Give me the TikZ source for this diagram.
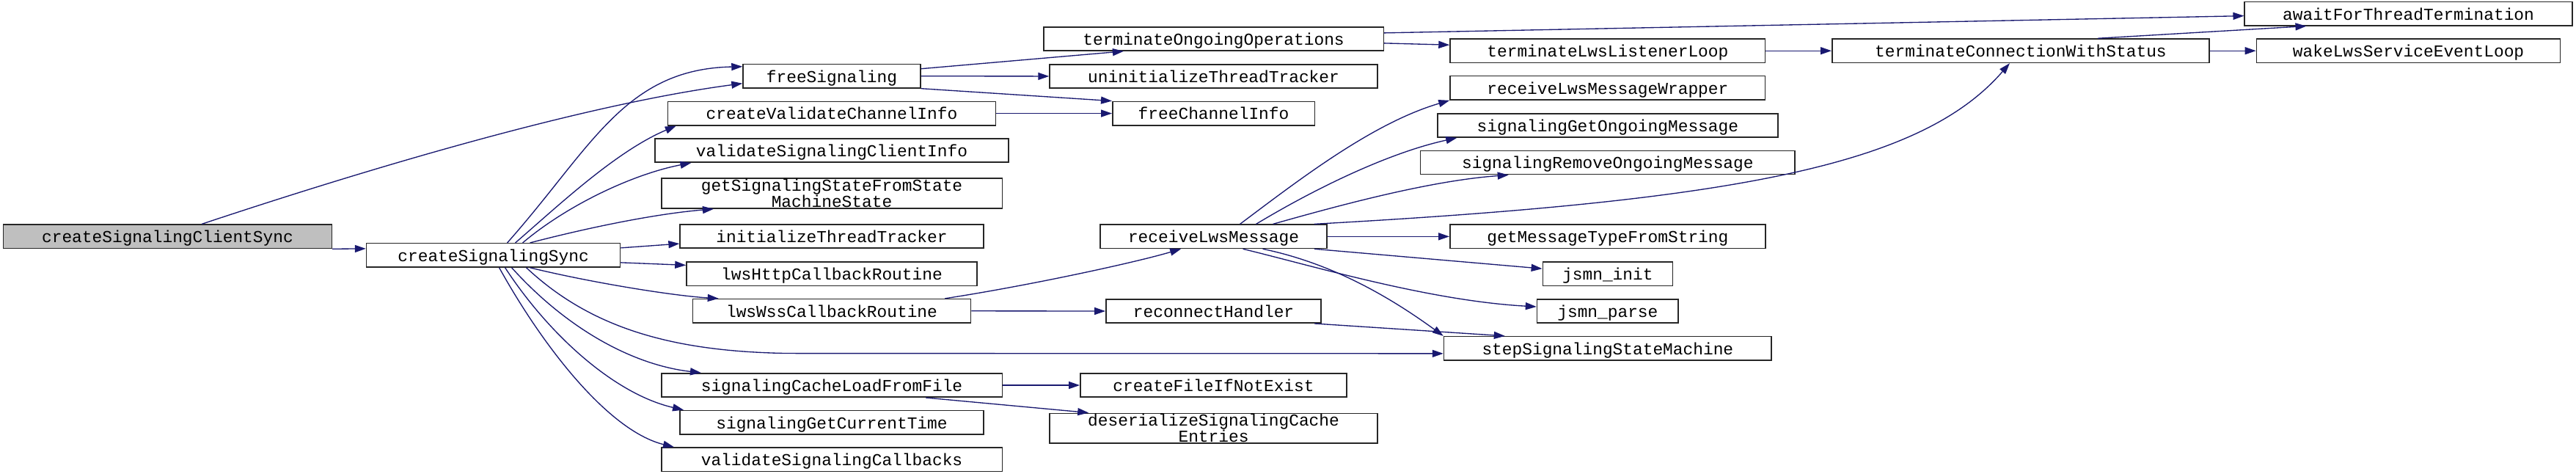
\documentclass[tikz,border=0pt]{standalone}
\usepackage{fontspec}
\setmonofont{Liberation Mono}
\usepackage{tikz}
\usetikzlibrary{arrows.meta}
\definecolor{edgeblue}{RGB}{25, 25, 112}
\definecolor{rootgray}{RGB}{191, 191, 191}

\begin{document}
\begin{tikzpicture}[x=0.0224cm, y=-0.0224cm, >={Triangle[length=0.15cm, width=0.1cm]},
    font=\fontsize{6.5}{6.3}\selectfont\ttfamily,
    box/.style={draw=black!85, line width=0.45pt, fill=white, inner sep=0pt,
      minimum width=#1*0.0224cm, minimum height=0.258cm},
    fn/.style={box=#1, text height=0.7em, text depth=0.22em},
    fn2/.style={box=#1, align=center, minimum height=0.408cm},
    call/.style={->, draw=edgeblue, line width=0.38pt}]

  \useasboundingbox (0,0) rectangle (1568,288);

  % Caller and createSignalingSync
  \node[fn=200, fill=rootgray] (root) at (102,143.9) {createSignalingClientSync};
  \node[fn=154.5] (sync) at (300.3,155.3) {createSignalingSync};

  % Column 2
  \foreach \n/\y/\w/\lbl in {fs/46.3/108/freeSignaling,
      cvci/69/199.5/createValidateChannelInfo,
      vsci/91.5/215/validateSignalingClientInfo,
      itt/143.8/184.7/initializeThreadTracker,
      lh/166.7/176.8/lwsHttpCallbackRoutine,
      lw/189.2/169.2/lwsWssCallbackRoutine,
      scl/234.4/207.4/signalingCacheLoadFromFile,
      sgct/257/185/signalingGetCurrentTime,
      vsc/279.6/207.4/validateSignalingCallbacks}{
    \node[fn=\w] (\n) at (506.3,\y) {\lbl};
  }
  \node[fn2=207.4] (gss) at (506.3,117.7) {getSignalingStateFromState\\MachineState};

  % Column 3
  \foreach \n/\y/\w/\lbl in {too/23.6/207/terminateOngoingOperations,
      uit/46.4/199.5/uninitializeThreadTracker,
      fci/69/123/freeChannelInfo,
      rlm/143.9/138/receiveLwsMessage,
      rh/189.3/131/reconnectHandler,
      cfe/234.4/162.2/createFileIfNotExist}{
    \node[fn=\w] (\n) at (738.7,\y) {\lbl};
  }
  \node[fn2=199.6] (dsce) at (738.7,260.6) {deserializeSignalingCache\\Entries};

  % Column 4
  \foreach \n/\y/\w/\lbl in {tll/30.9/191.8/terminateLwsListenerLoop,
      rlmw/53.5/191.8/receiveLwsMessageWrapper,
      sgom/76.3/207/signalingGetOngoingMessage,
      srom/98.9/228/signalingRemoveOngoingMessage,
      gmt/143.9/192/getMessageTypeFromString,
      ji/166.6/79/jsmn\_init,
      jp/189.3/86/jsmn\_parse,
      ssm/212/199.4/stepSignalingStateMachine}{
    \node[fn=\w] (\n) at (978.6,\y) {\lbl};
  }

  % Columns 5 and 6
  \node[fn=229.6] (tcws) at (1230,30.9) {terminateConnectionWithStatus};
  \node[fn=199.4] (awt) at (1466,8.3) {awaitForThreadTermination};
  \node[fn=184.9] (wlse) at (1466,30.9) {wakeLwsServiceEventLoop};

  % Straight calls
  \foreach \a/\b in {fs/uit, cvci/fci, tll/tcws, tcws/wlse, lw/rh, rlm/gmt, scl/cfe}{
    \draw[call] (\a.east) -- (\b.west);
  }

  % From the caller
  \draw[call] (root.south east) -- ([yshift=0.09cm]sync.west);
  \draw[call] (root.20) .. controls (217,105) and (352,64) .. ([yshift=-0.1cm]fs.west);

  % From createSignalingSync
  \draw[call] ([xshift=0.19cm]sync.north) .. controls (360,90) and (380,42) .. ([yshift=-0.04cm]fs.north west);
  \draw[call] ([xshift=0.3cm]sync.north) .. controls (340,125) and (375,92) .. ([xshift=0.12cm]cvci.south west);
  \draw[call] ([xshift=0.4cm]sync.north) .. controls (345,125) and (385,106) .. ([xshift=0.5cm]vsci.south west);
  \draw[call] ([xshift=0.5cm]sync.north) .. controls (360,138) and (400,130) .. ([xshift=0.72cm]gss.south west);
  \draw[call] ([yshift=0.1cm]sync.east) -- ([yshift=-0.1cm]itt.west);
  \draw[call] ([yshift=-0.1cm]sync.east) -- ([yshift=0.12cm]lh.west);
  \draw[call] ([xshift=0.5cm]sync.south) .. controls (360,172) and (410,180) .. ([xshift=0.36cm]lw.north west);
  \draw[call] ([xshift=0.45cm]sync.south) .. controls (360,200) and (410,214) .. (480,215) -- ([yshift=-0.07cm]ssm.west);
  \draw[call] ([xshift=0.25cm]sync.south) .. controls (345,200) and (385,222) .. ([xshift=0.55cm]scl.north west);
  \draw[call] ([xshift=0.16cm]sync.south) .. controls (335,205) and (375,240) .. ([xshift=0.06cm]sgct.north west);
  \draw[call] ([xshift=0.08cm]sync.south) .. controls (330,210) and (370,262) .. ([xshift=0.18cm]vsc.north west);

  % freeSignaling and terminateOngoingOperations
  \draw[call] ([yshift=0.1cm]fs.east) -- ([xshift=1.1cm]too.south west);
  \draw[call] (fs.south east) -- (fci.north west);
  \draw[call] ([yshift=0.08cm]too.east) -- ([yshift=-0.03cm]awt.west);
  \draw[call] ([yshift=-0.06cm]too.east) -- ([yshift=0.08cm]tll.west);
  \draw[call] ([xshift=1.05cm]tcws.north) -- ([xshift=0.85cm]awt.south west);

  % lwsWssCallbackRoutine and reconnectHandler
  \draw[call] ([xshift=-0.36cm]lw.north east) .. controls (625,174) and (690,160) .. ([xshift=1.11cm]rlm.south west);
  \draw[call] ([xshift=-0.1cm]rh.south east) -- ([xshift=0.84cm]ssm.north west);

  % receiveLwsMessage
  \draw[call] ([xshift=0.36cm]rlm.north) .. controls (790,110) and (835,75) .. (rlmw.south west);
  \draw[call] ([xshift=0.58cm]rlm.north) .. controls (800,115) and (845,93) .. ([xshift=0.27cm]sgom.south west);
  \draw[call] ([xshift=0.81cm]rlm.north) .. controls (815,125) and (870,110) .. ([xshift=1.21cm]srom.south west);
  \draw[call] ([xshift=-0.18cm]rlm.north east) .. controls (1060,122) and (1170,100) .. ([xshift=-0.15cm]tcws.south);
  \draw[call] ([xshift=-0.18cm]rlm.south east) -- ([yshift=0.07cm]ji.west);
  \draw[call] ([xshift=0.4cm]rlm.south) .. controls (800,162) and (870,183) .. ([yshift=0.06cm]jp.west);
  \draw[call] ([xshift=0.67cm]rlm.south) .. controls (810,160) and (845,180) .. (ssm.north west);

  % signalingCacheLoadFromFile
  \draw[call] ([xshift=-1.05cm]scl.south east) -- ([xshift=0.54cm]dsce.north west);
\end{tikzpicture}
\end{document}
